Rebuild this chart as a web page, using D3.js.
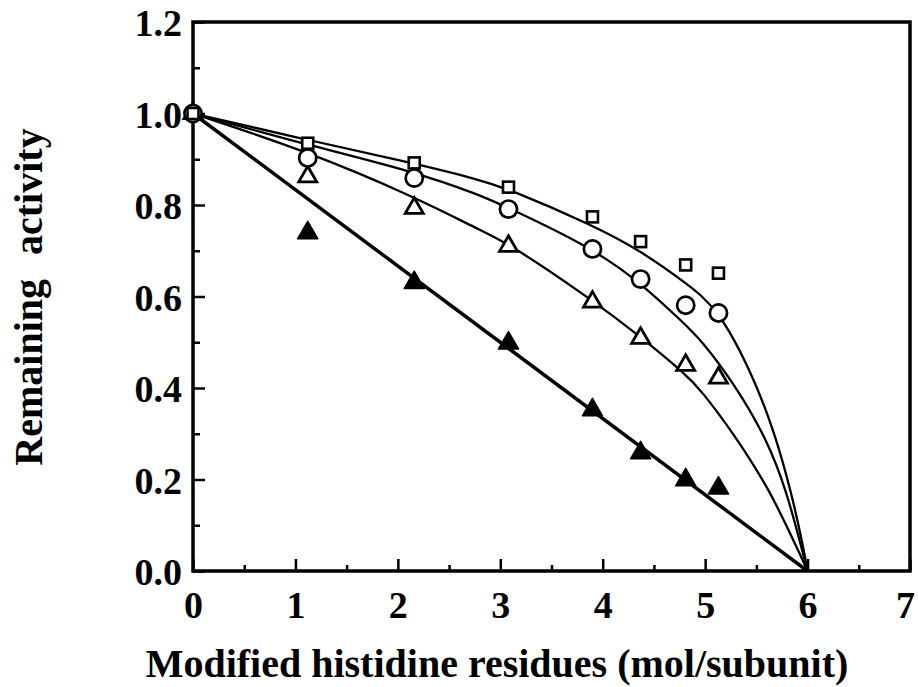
<!DOCTYPE html>
<html>
<head>
<meta charset="utf-8">
<script src="https://cdn.jsdelivr.net/npm/d3@7"></script>
<style>
  body { margin: 0; background: #fff; }
  svg { display: block; }
  text { font-family: "Liberation Serif", "Times New Roman", serif; font-weight: bold; fill: #000; }
</style>
</head>
<body>
<svg id="chart"></svg>
<script>
// measured points (x = modified histidine residues, y = remaining activity)
var xSquare = [0, 1.12, 2.16, 3.08, 3.9, 4.37, 4.81, 5.13];
var ySquare = [1.0, 0.935, 0.892, 0.839, 0.774, 0.72, 0.669, 0.651];
var xCircle = [0, 1.12, 2.16, 3.08, 3.9, 4.37, 4.81, 5.13];
var yCircle = [1.0, 0.903, 0.859, 0.791, 0.704, 0.638, 0.581, 0.564];
var xOpenTri = [0, 1.12, 2.16, 3.08, 3.9, 4.37, 4.81, 5.13];
var yOpenTri = [1.0, 0.862, 0.793, 0.71, 0.588, 0.509, 0.45, 0.422];
var xFillTri = [1.12, 2.16, 3.08, 3.9, 4.37, 4.81, 5.13];
var yFillTri = [0.739, 0.63, 0.498, 0.352, 0.258, 0.199, 0.181];

// fitted curves
var xCurveSquare = [0, 1.12, 2.16, 2.8, 3.07, 3.9, 4.37, 4.81, 5.12, 5.44, 5.67, 5.85, 5.96, 6];
var yCurveSquare = [1.0, 0.942, 0.891, 0.855, 0.836, 0.756, 0.7, 0.63, 0.575, 0.44, 0.31, 0.165, 0.05, 0];
var xCurveCircle = [0, 1.12, 2.16, 2.8, 3.07, 3.9, 4.37, 4.8, 4.96, 5.28, 5.61, 5.8, 5.93, 6];
var yCurveCircle = [1.0, 0.931, 0.873, 0.822, 0.795, 0.706, 0.63, 0.54, 0.505, 0.411, 0.286, 0.17, 0.06, 0];
var xCurveTri = [0, 1.12, 2.16, 2.8, 3.07, 3.9, 4.37, 4.81, 4.96, 5.28, 5.61, 5.8, 5.93, 6];
var yCurveTri = [1.0, 0.917, 0.818, 0.745, 0.718, 0.592, 0.512, 0.43, 0.395, 0.3, 0.184, 0.096, 0.035, 0];
var xLine = [0, 6];
var yLine = [1.0, 0];

var xTicks = [0, 1, 2, 3, 4, 5, 6, 7];
var yTicks = [0, 0.2, 0.4, 0.6, 0.8, 1.0, 1.2];

const width = 918, height = 687;
const mLeft = 193, mRight = 910, mTop = 22, mBottom = 571;

const svg = d3.select("#chart").attr("width", width).attr("height", height);

const x = d3.scaleLinear().domain([0, 7]).range([mLeft, mRight]);
const y = d3.scaleLinear().domain([0, 1.2]).range([mBottom, mTop]);

// ticks (inward)
const g = svg.append("g");
g.append("g")
    .attr("transform", `translate(0,${mBottom})`)
    .call(d3.axisBottom(x).tickValues(d3.range(0.5, 7, 1)).tickSize(-6).tickFormat(""))
    .call(a => a.select(".domain").remove())
    .selectAll("line").attr("stroke-width", 2.5);
g.append("g")
    .attr("transform", `translate(0,${mBottom})`)
    .call(d3.axisBottom(x).tickValues(xTicks).tickSize(-12).tickPadding(20).tickFormat(d3.format("d")))
    .call(a => a.select(".domain").remove())
    .call(a => a.selectAll("text").attr("font-size", 38).attr("dy", "0.71em")
        .attr("dx", d => d === 7 ? -5 : 0))
    .selectAll("line").attr("stroke-width", 2.5);
g.append("g")
    .attr("transform", `translate(${mLeft},0)`)
    .call(d3.axisLeft(y).tickValues(d3.range(0.1, 1.2, 0.2)).tickSize(-7).tickFormat(""))
    .call(a => a.select(".domain").remove())
    .selectAll("line").attr("stroke-width", 2.5);
g.append("g")
    .attr("transform", `translate(${mLeft},0)`)
    .call(d3.axisLeft(y).tickValues(yTicks).tickSize(-12).tickPadding(11).tickFormat(d3.format(".1f")))
    .call(a => a.select(".domain").remove())
    .call(a => a.selectAll("text").attr("font-size", 38).attr("dy", "0.36em"))
    .selectAll("line").attr("stroke-width", 2.5);
svg.selectAll(".tick text").attr("font-family", "Liberation Serif").attr("font-weight", "bold");

// frame
svg.append("rect")
    .attr("x", mLeft).attr("y", mTop)
    .attr("width", mRight - mLeft).attr("height", mBottom - mTop)
    .attr("fill", "none").attr("stroke", "#000").attr("stroke-width", 3.5);

// curves
const line = d3.line().x(d => x(d[0])).y(d => y(d[1])).curve(d3.curveBasis);
[[xCurveSquare, yCurveSquare], [xCurveCircle, yCurveCircle], [xCurveTri, yCurveTri]].forEach(c => {
    svg.append("path")
        .datum(c[0].map((v, i) => [v, c[1][i]]))
        .attr("d", line)
        .attr("fill", "none").attr("stroke", "#000").attr("stroke-width", 2.3);
});
svg.append("path")
    .datum(xLine.map((v, i) => [v, yLine[i]]))
    .attr("d", d3.line().x(d => x(d[0])).y(d => y(d[1])))
    .attr("fill", "none").attr("stroke", "#000").attr("stroke-width", 3.5);

// markers
function pts(xs, ys) { return xs.map((v, i) => [v, ys[i]]); }
const tri = d3.symbol().type(d3.symbolTriangle);

svg.append("g").selectAll("path")
    .data(pts(xFillTri, yFillTri)).join("path")
    .attr("transform", d => `translate(${x(d[0])},${y(d[1])})`)
    .attr("d", tri.size(175)())
    .attr("fill", "#000").attr("stroke", "#000").attr("stroke-width", 1.5).attr("stroke-linejoin", "round");
svg.append("g").selectAll("path")
    .data(pts(xOpenTri, yOpenTri)).join("path")
    .attr("transform", d => `translate(${x(d[0])},${y(d[1])})`)
    .attr("d", tri.size(140)())
    .attr("fill", "#fff").attr("stroke", "#000").attr("stroke-width", 2.8);
svg.append("g").selectAll("circle")
    .data(pts(xCircle, yCircle)).join("circle")
    .attr("cx", d => x(d[0])).attr("cy", d => y(d[1])).attr("r", 8.6)
    .attr("fill", "#fff").attr("stroke", "#000").attr("stroke-width", 2.7);
svg.append("g").selectAll("rect")
    .data(pts(xSquare, ySquare)).join("rect")
    .attr("x", d => x(d[0]) - 5.5).attr("y", d => y(d[1]) - 5.5)
    .attr("width", 11).attr("height", 11)
    .attr("fill", "#fff").attr("stroke", "#000").attr("stroke-width", 2.6);

// axis titles
svg.append("text")
    .attr("x", 497).attr("y", 677)
    .attr("text-anchor", "middle").attr("font-size", 40)
    .text("Modified histidine residues (mol/subunit)");
svg.append("text")
    .attr("transform", "translate(42,297) rotate(-90)")
    .attr("text-anchor", "middle").attr("font-size", 40)
    .attr("word-spacing", 14)
    .text("Remaining activity");
</script>
</body>
</html>
